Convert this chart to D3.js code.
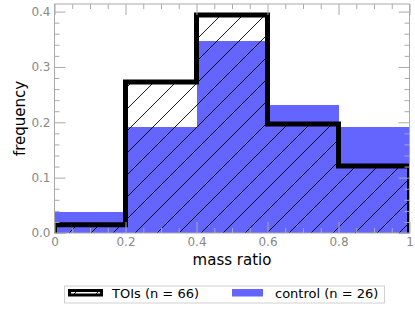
<!DOCTYPE html>
<html>
<head>
<meta charset="utf-8">
<script src="https://cdn.jsdelivr.net/npm/d3@7"></script>
<style>
	body { margin: 0; background: #fff; }
	svg { display: block; font-family: "DejaVu Sans", sans-serif; }
</style>
</head>
<body>
<div id="chartContainer"></div>
<script>

//============================================================
// data (frequency per bin)
//============================================================

var binEdges    = [0, 0.2, 0.4, 0.6, 0.8, 1],
    toiFreq     = [0.015, 0.273, 0.394, 0.197, 0.121],   // TOIs (n = 66)
    controlFreq = [0.038, 0.192, 0.346, 0.231, 0.192],   // control (n = 26)
    xTickLabels = ['0', '0.2', '0.4', '0.6', '0.8', '1'],
    yTickLabels = ['0.0', '0.1', '0.2', '0.3', '0.4'],
    legendNames = ['TOIs (n = 66)', 'control (n = 26)'];

var width      = 415,
    height     = 311,
    plotLeft   = 54.5,
    plotRight  = 409.5,
    plotTop    = 4,
    plotBottom = 233,
    blue       = '#6464ff',
    axisColour = '#aaaaaa',
    tickColour = '#888888',
    majorLen   = 11,
    minorLen   = 5;

var xTicks = xTickLabels.map(Number),
    yTicks = yTickLabels.map(Number);

var x = d3.scaleLinear()
	.domain([0, 1])
	.range([plotLeft, plotRight]);

var y = d3.scaleLinear()
	.domain([0, d3.max(toiFreq.concat(controlFreq)) * 1.05])
	.range([plotBottom, plotTop]);

var svg = d3.select('#chartContainer')
	.append('svg')
	.attr('width', width)
	.attr('height', height);

var defs = svg.append('defs');

defs.append('clipPath')
	.attr('id', 'plotClip')
	.append('rect')
	.attr('x', plotLeft)
	.attr('y', plotTop)
	.attr('width', plotRight - plotLeft)
	.attr('height', plotBottom - plotTop);

// '/' hatch used for the TOI histogram
var hatch = defs.append('pattern')
	.attr('id', 'hatch')
	.attr('patternUnits', 'userSpaceOnUse')
	.attr('x', 16)
	.attr('width', 22)
	.attr('height', 22);

hatch.selectAll('line')
	.data([[-11, 11, 11, -11], [0, 22, 22, 0], [11, 33, 33, 11]])
	.enter()
	.append('line')
	.attr('x1', function(d){ return d[0]; })
	.attr('y1', function(d){ return d[1]; })
	.attr('x2', function(d){ return d[2]; })
	.attr('y2', function(d){ return d[3]; })
	.attr('stroke', '#000')
	.attr('stroke-width', 0.9);

// turn bin values into a step outline (open at the bottom)
function stepPoints(values){
	var pts = [[binEdges[0], 0]];
	values.forEach(function(v, i){
		pts.push([binEdges[i], v]);
		pts.push([binEdges[i + 1], v]);
	});
	pts.push([binEdges[binEdges.length - 1], 0]);
	return pts;
}

var line = d3.line()
	.x(function(d){ return x(d[0]); })
	.y(function(d){ return y(d[1]); });

var plot = svg.append('g')
	.attr('clip-path', 'url(#plotClip)');

// CONTROL BARS
plot.selectAll('rect.control')
	.data(controlFreq)
	.enter()
	.append('rect')
	.attr('class', 'control')
	.attr('x', function(d, i){ return x(binEdges[i]); })
	.attr('width', function(d, i){ return x(binEdges[i + 1]) - x(binEdges[i]); })
	.attr('y', function(d){ return y(d); })
	.attr('height', function(d){ return y(0) - y(d); })
	.attr('fill', blue)
	.attr('shape-rendering', 'crispEdges');

// TOI HATCH + STEP OUTLINE
plot.append('path')
	.attr('d', line(stepPoints(toiFreq)) + 'Z')
	.attr('fill', 'url(#hatch)');

plot.append('path')
	.attr('d', line(stepPoints(toiFreq)))
	.attr('fill', 'none')
	.attr('stroke', '#000')
	.attr('stroke-width', 5)
	.attr('stroke-linejoin', 'miter');

// AXES (ticks point inwards on all four sides)
var xMinor = d3.range(0, 1.0001, 0.05).filter(function(v){
	return Math.abs(v * 5 - Math.round(v * 5)) > 1e-6;
});
var yMinor = d3.range(0, 0.41, 0.02).filter(function(v){
	return Math.abs(v * 10 - Math.round(v * 10)) > 1e-6;
});

function styleAxis(g){
	g.select('.domain').remove();
	g.selectAll('line').attr('stroke', axisColour);
	g.selectAll('text')
		.attr('fill', tickColour)
		.style('font-size', '12px')
		.style('font-family', '"DejaVu Sans", sans-serif');
}

function addAxis(axisFn, scale, transform, values, size, labels){
	var ax = axisFn(scale)
		.tickValues(values)
		.tickSizeInner(-size)
		.tickSizeOuter(0)
		.tickPadding(4)
		.tickFormat(function(d, i){ return labels ? labels[i] : ''; });
	svg.append('g')
		.attr('transform', transform)
		.call(ax)
		.call(styleAxis);
}

addAxis(d3.axisBottom, x, 'translate(0,' + plotBottom + ')', xTicks, majorLen, xTickLabels);
addAxis(d3.axisBottom, x, 'translate(0,' + plotBottom + ')', xMinor, minorLen);
addAxis(d3.axisTop, x, 'translate(0,' + plotTop + ')', xTicks, majorLen);
addAxis(d3.axisTop, x, 'translate(0,' + plotTop + ')', xMinor, minorLen);
addAxis(d3.axisLeft, y, 'translate(' + plotLeft + ',0)', yTicks, majorLen, yTickLabels);
addAxis(d3.axisLeft, y, 'translate(' + plotLeft + ',0)', yMinor, minorLen);
addAxis(d3.axisRight, y, 'translate(' + plotRight + ',0)', yTicks, majorLen);
addAxis(d3.axisRight, y, 'translate(' + plotRight + ',0)', yMinor, minorLen);

// frame
svg.append('rect')
	.attr('x', plotLeft)
	.attr('y', plotTop)
	.attr('width', plotRight - plotLeft)
	.attr('height', plotBottom - plotTop)
	.attr('fill', 'none')
	.attr('stroke', axisColour)
	.attr('stroke-width', 1);

// AXIS LABELS
svg.append('text')
	.attr('x', (plotLeft + plotRight) / 2)
	.attr('y', 265)
	.attr('text-anchor', 'middle')
	.style('font-size', '15px')
	.text('mass ratio');

svg.append('text')
	.attr('transform', 'translate(24.5,' + (plotTop + plotBottom) / 2 + ') rotate(-90)')
	.attr('text-anchor', 'middle')
	.style('font-size', '15px')
	.text('frequency');

// LEGEND
var legend = svg.append('g');

legend.append('rect')
	.attr('x', 64.5)
	.attr('y', 286)
	.attr('width', 320)
	.attr('height', 17)
	.attr('fill', '#fff')
	.attr('stroke', '#d0d0d0');

legend.append('rect')
	.attr('x', 69.5)
	.attr('y', 290.5)
	.attr('width', 32)
	.attr('height', 4.5)
	.attr('fill', 'url(#hatch)')
	.attr('stroke', '#000')
	.attr('stroke-width', 3);

legend.append('rect')
	.attr('x', 232)
	.attr('y', 289)
	.attr('width', 31)
	.attr('height', 7.5)
	.attr('fill', blue);

legend.selectAll('text.name')
	.data(legendNames)
	.enter()
	.append('text')
	.attr('class', 'name')
	.attr('x', function(d, i){ return i === 0 ? 112 : 275; })
	.attr('y', 297.5)
	.style('font-size', '13px')
	.text(function(d){ return d; });

</script>
</body>
</html>
